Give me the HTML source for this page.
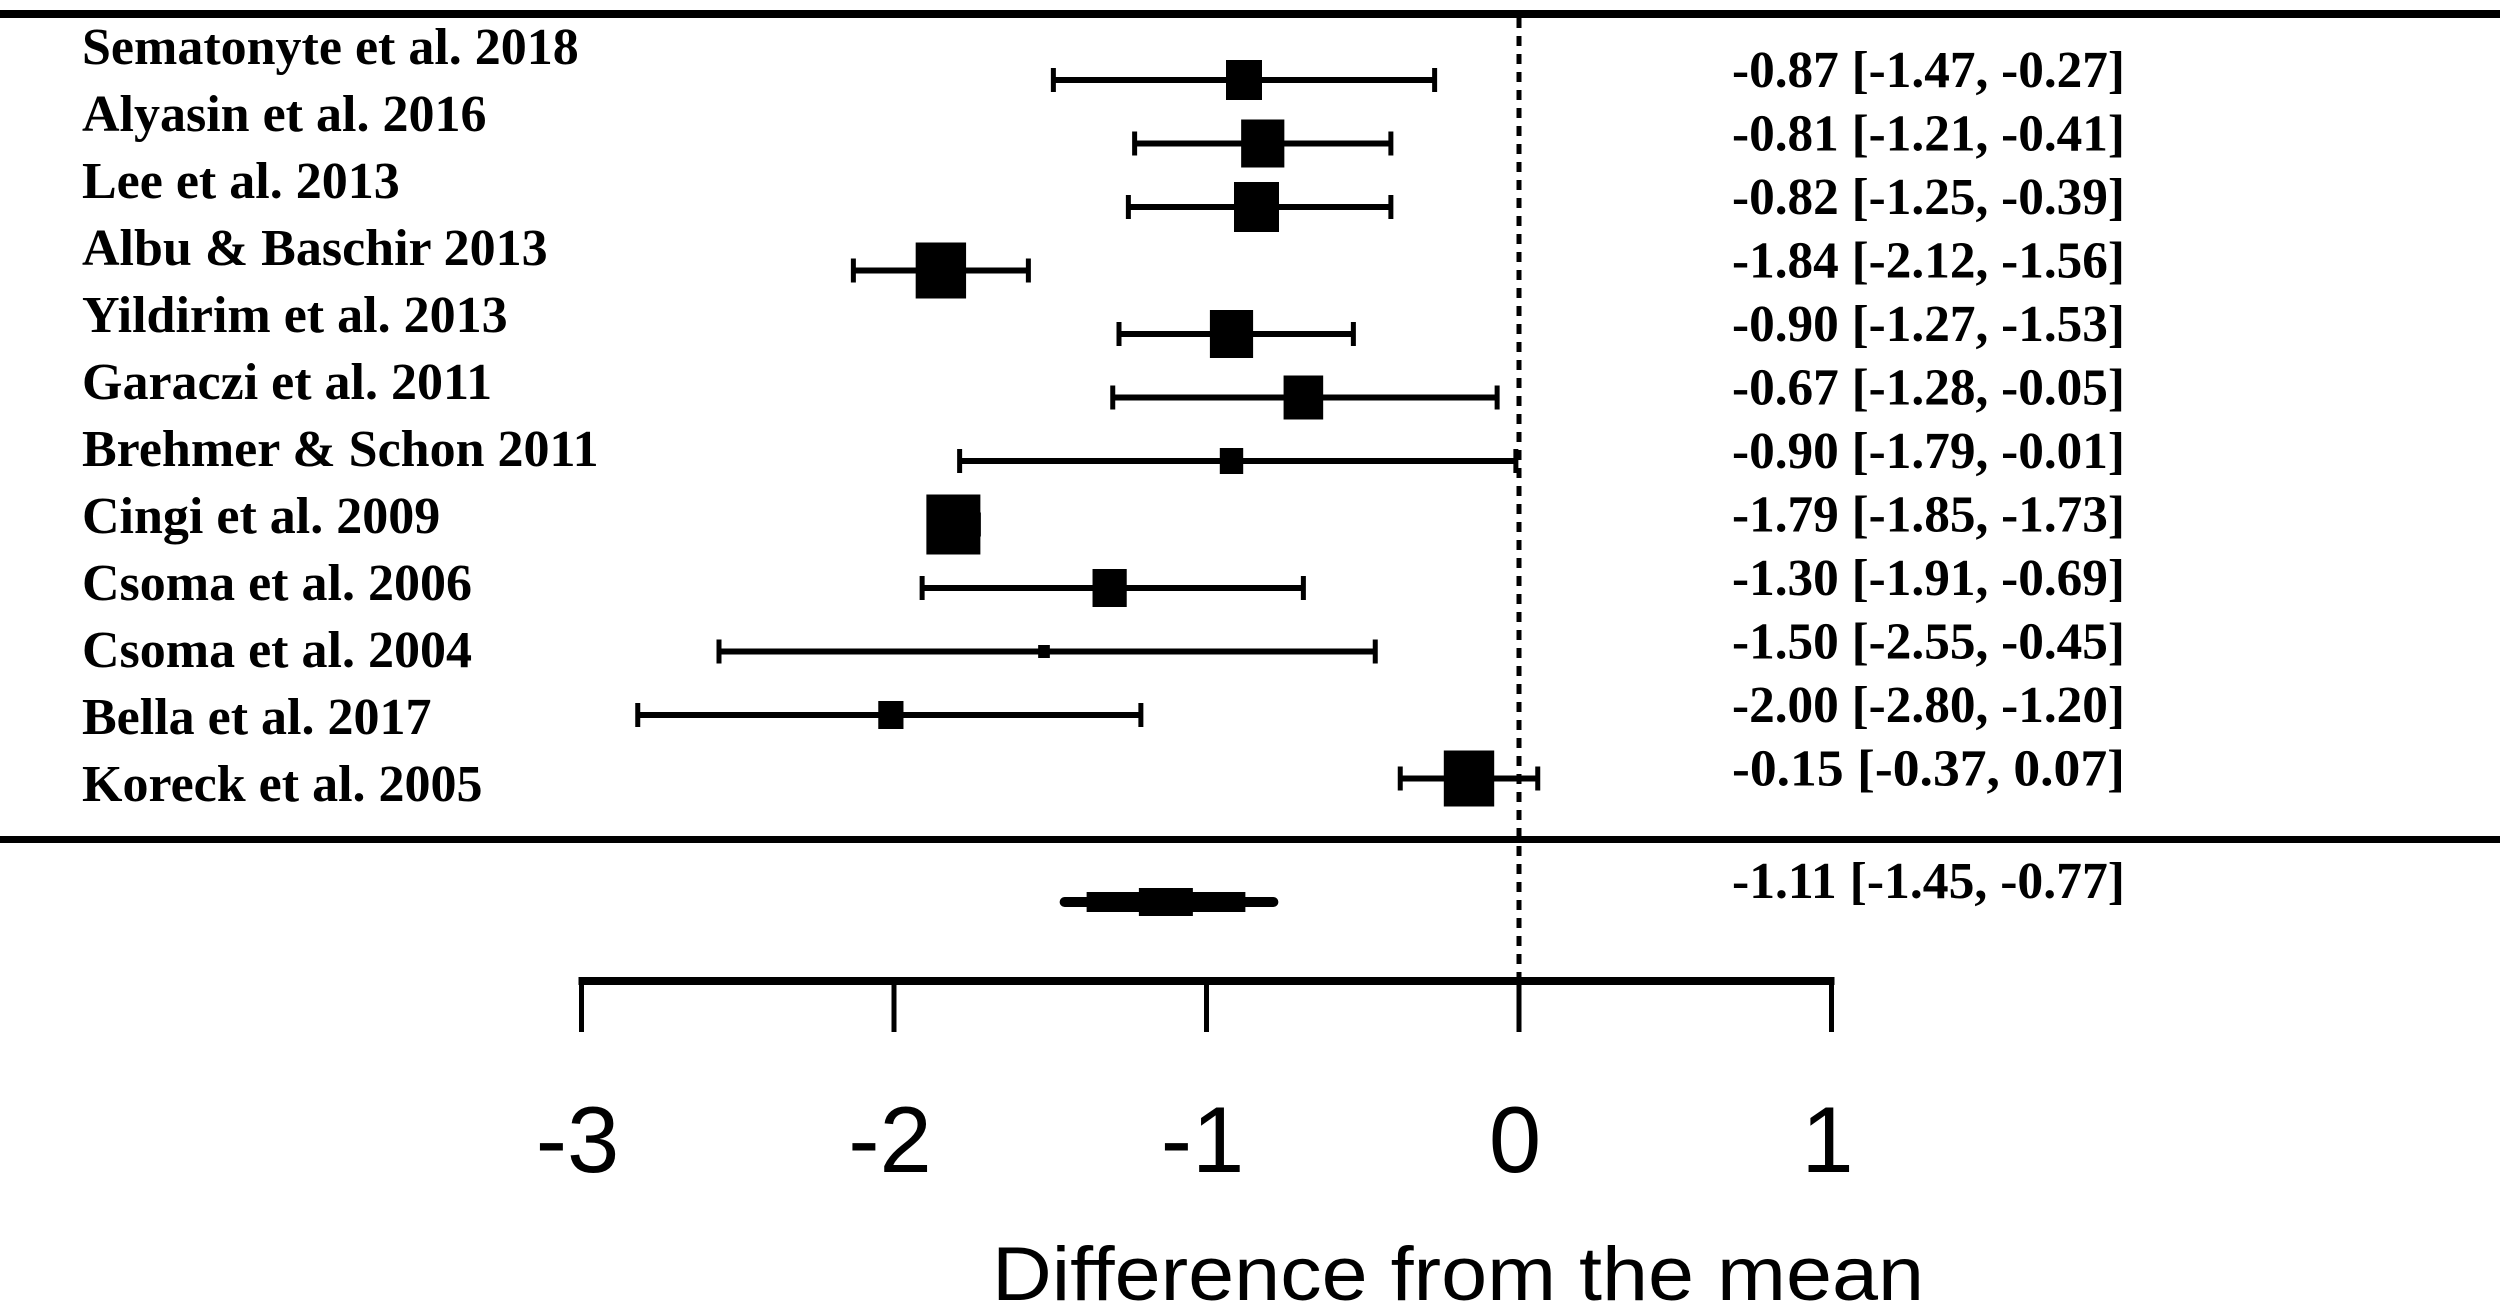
<!DOCTYPE html>
<html><head><meta charset="utf-8"><style>
html,body{margin:0;padding:0;background:#fff;}
svg{display:block;}
</style></head><body>
<svg id="chart" width="2500" height="1309" viewBox="0 0 2500 1309" xmlns="http://www.w3.org/2000/svg">
<rect width="2500" height="1309" fill="#fff"/>
<g id="g"></g>
</svg>
<script>
const studies = ["Sematonyte et al. 2018","Alyasin et al. 2016","Lee et al. 2013","Albu  & Baschir 2013","Yildirim  et al. 2013","Garaczi et al. 2011","Brehmer & Schon 2011","Cingi et al. 2009","Csoma et al. 2006","Csoma et al. 2004","Bella et al. 2017","Koreck et al. 2005"];
const means = [-0.88,-0.82,-0.84,-1.85,-0.92,-0.69,-0.92,-1.81,-1.31,-1.52,-2.01,-0.16];
const lowers = [-1.49,-1.23,-1.25,-2.13,-1.28,-1.30,-1.79,-1.85,-1.91,-2.56,-2.82,-0.38];
const uppers = [-0.27,-0.41,-0.41,-1.57,-0.53,-0.07,-0.01,-1.73,-0.69,-0.46,-1.21,0.06];
const weights = [40,48,50,56,48,44,26,60,38,13,28,56];
const ciLabels = ["-0.87 [-1.47, -0.27]","-0.81 [-1.21, -0.41]","-0.82 [-1.25, -0.39]","-1.84 [-2.12, -1.56]","-0.90 [-1.27, -1.53]","-0.67 [-1.28, -0.05]","-0.90 [-1.79, -0.01]","-1.79 [-1.85, -1.73]","-1.30 [-1.91, -0.69]","-1.50 [-2.55, -0.45]","-2.00 [-2.80, -1.20]","-0.15 [-0.37,  0.07]"];
const pooled = [-1.13,-1.47,-0.77];
const pooledLabel = "-1.11 [-1.45, -0.77]";
const ticks = [-3,-2,-1,0,1];
const tickLabels = ["-3","-2","-1","0","1"];

const NS="http://www.w3.org/2000/svg";
const g=document.getElementById('g');
const x=v=>1519+312.5*v;
const rowY=i=>80+63.5*i;
function el(t,a,txt){const e=document.createElementNS(NS,t);for(const k in a)e.setAttribute(k,a[k]);if(txt!==undefined)e.textContent=txt;g.appendChild(e);return e;}

let e;
e=el('rect',{x:0,y:10,width:2500,height:8,fill:'#000'});


e=el('rect',{x:0,y:836,width:2500,height:7,fill:'#000'});


e=el('line',{x1:x(0),y1:18,x2:x(0),y2:978,stroke:'#000','stroke-width':5,'stroke-dasharray':'10 8'});



studies.forEach((s,i)=>{
  const y=rowY(i);
  e=el('text',{x:82,y:64+67*i,'font-family':'Liberation Serif, serif','font-weight':'bold','font-size':52},s);
  
  
  e=el('line',{x1:x(lowers[i]),y1:y,x2:x(uppers[i]),y2:y,stroke:'#000','stroke-width':6});
  
  
  [lowers[i],uppers[i]].forEach(v=>{
    e=el('line',{x1:x(v),y1:y-12,x2:x(v),y2:y+12,stroke:'#000','stroke-width':5});
    
    
  });
  const w=weights[i];
  e=el('rect',{x:x(means[i])-w*0.45,y:y-w/2,width:w*0.9,height:w,fill:'#000'});
  
  
  e=el('text',{x:1732,y:87+63.5*i,'font-family':'Liberation Serif, serif','font-weight':'bold','font-size':52,textLength:393,lengthAdjust:'spacingAndGlyphs'},ciLabels[i]);
  
  
});

const py=902;
e=el('rect',{x:x(pooled[1]),y:py-5,width:x(pooled[2])-x(pooled[1]),height:10,rx:5,fill:'#000'});


e=el('rect',{x:x(pooled[1])+27,y:py-10,width:x(pooled[2])-x(pooled[1])-60,height:20,fill:'#000'});


e=el('rect',{x:x(pooled[0])-27,y:py-14,width:54,height:28,fill:'#000'});


e=el('text',{x:1732,y:898,'font-family':'Liberation Serif, serif','font-weight':'bold','font-size':52,textLength:393,lengthAdjust:'spacingAndGlyphs'},pooledLabel);



e=el('line',{x1:x(ticks[0])-3,y1:981,x2:x(ticks[ticks.length-1])+3,y2:981,stroke:'#000','stroke-width':8});


ticks.forEach((t,i)=>{
  e=el('line',{x1:x(t),y1:978,x2:x(t),y2:1032,stroke:'#000','stroke-width':5});
  
  
  e=el('text',{x:x(t)-4,y:1172,'font-family':'Liberation Sans, sans-serif','font-size':94,'text-anchor':'middle'},tickLabels[i]);
  
  
});
e=el('text',{x:992,y:1300,'font-family':'Liberation Sans, sans-serif','font-size':76,textLength:932,lengthAdjust:'spacingAndGlyphs'},'Difference from the mean');


</script>
</body></html>
